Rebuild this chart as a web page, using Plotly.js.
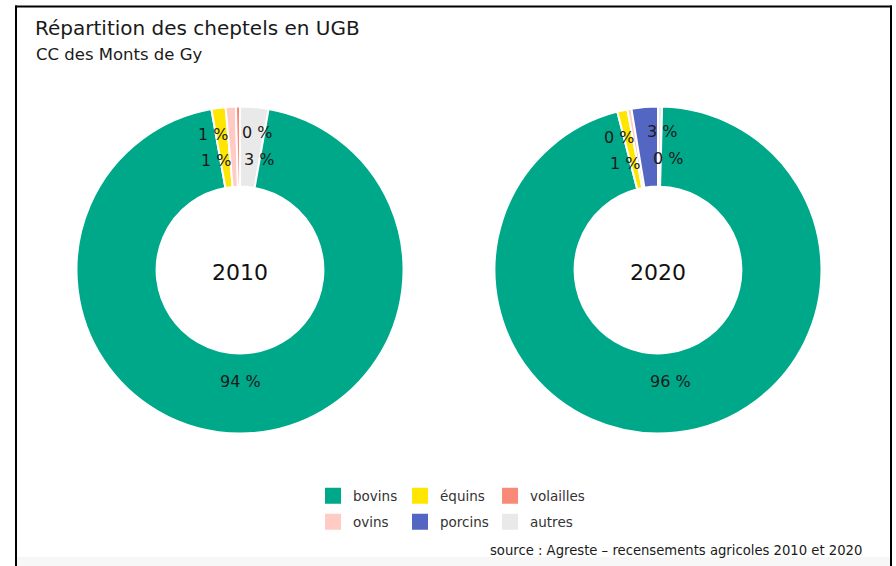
<!DOCTYPE html>
<html>
<head>
<meta charset="utf-8">
<script src="https://cdn.plot.ly/plotly-3.0.1.min.js"></script>
<style>
  html, body { margin: 0; padding: 0; background: #ffffff; }
  #chart { width: 896px; height: 566px; }
</style>
</head>
<body>
<div id="chart"></div>
<script>
// ---------- data ----------
const categories = ["autres", "bovins", "équins", "ovins", "porcins", "volailles"];
const years = ["2010", "2020"];
const values2010 = [2.8, 94.4, 1.4, 1.0, null, 0.4];
const values2020 = [0.4, 95.6, 1.0, 0.4, 2.6, null];
const legendOrder = ["bovins", "équins", "volailles", "ovins", "porcins", "autres"];
const titleText = "Répartition des cheptels en UGB";
const subtitleText = "CC des Monts de Gy";
const sourceText = "source : Agreste – recensements agricoles 2010 et 2020";

// ---------- styles / layout ----------
const colors = {
  "bovins": "#00A88A", "ovins": "#FFCBC4", "équins": "#FFE600",
  "porcins": "#5366C2", "volailles": "#FA8A78", "autres": "#E9E9E9"
};
const W = 896, H = 566;
const FONT = "DejaVu Sans, Liberation Sans, sans-serif";
const centers = [{x: 240, y: 270}, {x: 658, y: 270}];
const R = 163.5;
const HOLE = 0.51;
const rInner = 0.685, rOuter = 0.845;
const legendColX = [313, 400, 490];   // left edge of each legend column (px)
const legendRowY = [496, 522];        // vertical centre of each legend row (px)

function domainFor(c) {
  return {
    x: [(c.x - R) / W, (c.x + R) / W],
    y: [1 - (c.y + R) / H, 1 - (c.y - R) / H]
  };
}

const traces = [];
const annotations = [];
const seriesList = [values2010, values2020];

seriesList.forEach((vals, k) => {
  const labs = [], vs = [];
  categories.forEach((c, i) => { if (vals[i] !== null) { labs.push(c); vs.push(vals[i]); } });
  const total = vs.reduce((a, b) => a + b, 0);
  traces.push({
    type: "pie",
    labels: labs,
    values: vs,
    sort: false,
    direction: "clockwise",
    rotation: 0,
    hole: HOLE,
    domain: domainFor(centers[k]),
    marker: { colors: labs.map(l => colors[l]), line: { color: "#ffffff", width: 2 } },
    textinfo: "none",
    showlegend: false,
    hoverinfo: "label+percent",
    title: { text: years[k], position: "middle center", font: { size: 22, color: "#111111", family: FONT } }
  });

  // label angles (clockwise from 12 o'clock), computed from cumulative values
  let cum = 0;
  const items = vs.map((v, i) => {
    const a0 = cum / total * 360;
    cum += v;
    const a1 = cum / total * 360;
    let mid = (a0 + a1) / 2;
    if (mid > 180) mid -= 360;
    return { text: Math.round(v / total * 100) + " %", ang: mid, small: v / total * 100 < 5 };
  });
  // simple label repel for the thin slices
  const small = items.filter(d => d.small).sort((a, b) => a.ang - b.ang);
  small.forEach((d, i) => { d.rf = (i % 4 === 0 || i % 4 === 3) ? rInner : rOuter; });
  [rInner, rOuter].forEach(rf => {
    const row = small.filter(d => d.rf === rf);
    const minGap = 44 / (rf * R) * 180 / Math.PI;
    for (let it = 0; it < 200; it++) {
      for (let j = 0; j < row.length - 1; j++) {
        const gap = row[j + 1].ang - row[j].ang;
        if (gap < minGap) {
          const d = (minGap - gap) / 2;
          row[j].ang -= d; row[j + 1].ang += d;
        }
      }
    }
  });
  items.forEach(d => {
    const rf = d.small ? d.rf : rInner;
    const th = d.ang * Math.PI / 180;
    const px = centers[k].x + rf * R * Math.sin(th);
    const py = centers[k].y - rf * R * Math.cos(th);
    annotations.push({
      x: px / W, y: 1 - py / H, xref: "paper", yref: "paper",
      text: d.text, showarrow: false, xanchor: "center", yanchor: "middle",
      font: { size: 16, color: "#1a1a1a", family: FONT }
    });
  });
});

// legend: one legend box per entry, laid out as a 3 x 2 grid
const legendLayouts = {};
legendOrder.forEach((c, i) => {
  const key = i === 0 ? "legend" : "legend" + (i + 1);
  traces.push({
    type: "scatter", x: [null], y: [null], mode: "markers", name: c,
    marker: { symbol: "square", size: 16, color: colors[c] },
    legend: key, showlegend: true, hoverinfo: "skip"
  });
  legendLayouts[key] = {
    orientation: "h", xanchor: "left", yanchor: "middle",
    x: legendColX[i % 3] / W, y: 1 - legendRowY[Math.floor(i / 3)] / H,
    font: { size: 13.5, color: "#333333", family: FONT },
    bgcolor: "rgba(0,0,0,0)", borderwidth: 0, itemsizing: "trace"
  };
});

annotations.push({
  x: 33.5 / W, y: 1 - 54 / H, xref: "paper", yref: "paper", xanchor: "left", yanchor: "middle",
  text: subtitleText, showarrow: false, font: { size: 16.5, color: "#1a1a1a", family: FONT }
});
annotations.push({
  x: 864 / W, y: 1 - 550 / H, xref: "paper", yref: "paper", xanchor: "right", yanchor: "middle",
  text: sourceText, showarrow: false, font: { size: 13.2, color: "#1a1a1a", family: FONT }
});

const layout = Object.assign({
  width: W, height: H,
  margin: { l: 0, r: 0, t: 0, b: 0 },
  paper_bgcolor: "#ffffff", plot_bgcolor: "rgba(0,0,0,0)",
  font: { family: FONT },
  title: {
    text: titleText, x: 35 / W, xanchor: "left", xref: "container",
    y: 1 - 28 / H, yref: "container", yanchor: "middle",
    font: { size: 20, color: "#1a1a1a", family: FONT }
  },
  xaxis: { visible: false, range: [0, 1], fixedrange: true },
  yaxis: { visible: false, range: [0, 1], fixedrange: true },
  annotations: annotations,
  shapes: [
    { type: "rect", xref: "paper", yref: "paper", x0: 17 / W, x1: 890 / W, y0: 0, y1: 1 - 557 / H,
      fillcolor: "#f7f7f7", line: { width: 0 }, layer: "below" },
    { type: "line", xref: "paper", yref: "paper", x0: 16 / W, x1: 16 / W, y0: 0, y1: 1 - 5.5 / H,
      line: { color: "#000000", width: 2 } },
    { type: "line", xref: "paper", yref: "paper", x0: 15 / W, x1: 892 / W, y0: 1 - 6.5 / H, y1: 1 - 6.5 / H,
      line: { color: "#000000", width: 2 } },
    { type: "line", xref: "paper", yref: "paper", x0: 891 / W, x1: 891 / W, y0: 0, y1: 1 - 5.5 / H,
      line: { color: "#000000", width: 2 } }
  ]
}, legendLayouts);

Plotly.newPlot("chart", traces, layout, { staticPlot: true, displayModeBar: false });
</script>
</body>
</html>
